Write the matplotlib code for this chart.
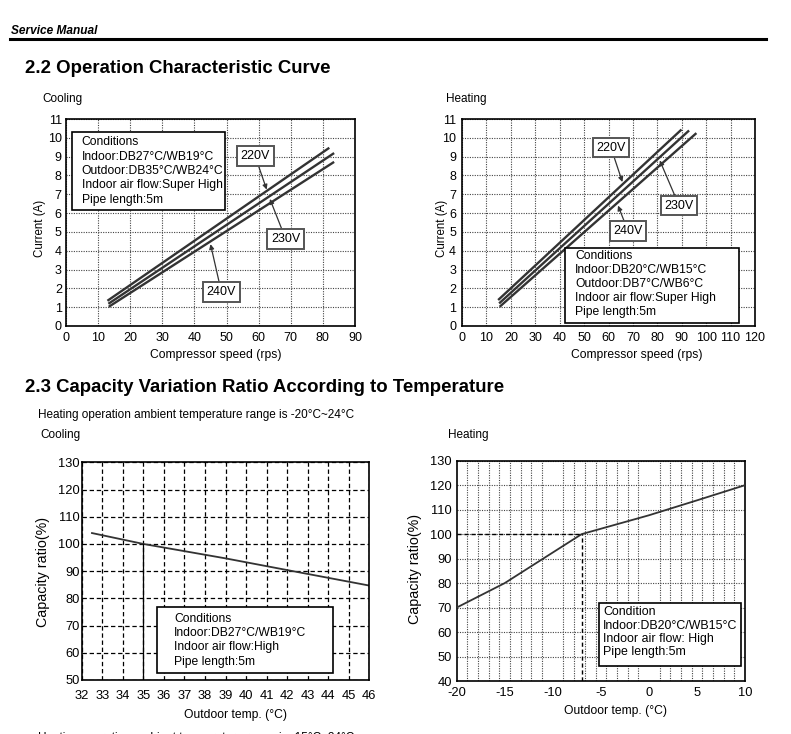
import numpy as np
import matplotlib
matplotlib.use("Agg")
import matplotlib.pyplot as plt
from matplotlib.patches import Rectangle
from matplotlib.lines import Line2D

plt.rcParams['font.family'] = ['Liberation Sans', 'DejaVu Sans']
plt.rcParams['axes.unicode_minus'] = False

# --- data ---
# 2.2 current vs compressor speed (cooling)
cool_rps_220 = [12.9, 82.0]
cool_amp_220 = [1.34, 9.47]
cool_rps_230 = [13.2, 83.5]
cool_amp_230 = [1.18, 9.19]
cool_rps_240 = [13.3, 83.5]
cool_amp_240 = [1.02, 8.72]

# 2.2 current vs compressor speed (heating)
heat_rps_220 = [14.8, 89.9]
heat_amp_220 = [1.38, 10.44]
heat_rps_230 = [15.2, 93.0]
heat_amp_230 = [1.20, 10.39]
heat_rps_240 = [15.4, 96.0]
heat_amp_240 = [1.02, 10.25]

# 2.3 capacity ratio vs outdoor temperature
cap_cool_temp = [32.5, 35, 39, 42, 46]
cap_cool_ratio = [104, 100, 94.7, 90.4, 84.7]
cap_heat_temp = [-20, -15, -11, -7, 0, 5, 10]
cap_heat_ratio = [70, 80, 90, 100, 107.7, 113.8, 120]

cool_cond = ["Conditions", "Indoor:DB27°C/WB19°C", "Outdoor:DB35°C/WB24°C",
             "Indoor air flow:Super High", "Pipe length:5m"]
heat_cond = ["Conditions", "Indoor:DB20°C/WB15°C", "Outdoor:DB7°C/WB6°C",
             "Indoor air flow:Super High", "Pipe length:5m"]
cap_cool_cond = ["Conditions", "Indoor:DB27°C/WB19°C", "Indoor air flow:High",
                 "Pipe length:5m"]
cap_heat_cond = ["Condition", "Indoor:DB20°C/WB15°C", "Indoor air flow: High",
                 "Pipe length:5m"]

W, H = 791, 734
fig = plt.figure(figsize=(W / 100, H / 100), dpi=100)


def fx(px):
    return px / W


def fy(py):
    return 1 - py / H


def axes_px(left, top, right, bottom):
    return fig.add_axes([fx(left), fy(bottom), (right - left) / W, (bottom - top) / H])


def cond_box(rect, lines, x_text, y_first, dy, size=8.7):
    # rect = (left, top, right, bottom) in pixels
    l, t, r, b = rect
    fig.add_artist(Rectangle((fx(l), fy(b)), (r - l) / W, (b - t) / H,
                             transform=fig.transFigure, fc='white', ec='black',
                             lw=1.2, zorder=5))
    for i, s in enumerate(lines):
        fig.text(fx(x_text), fy(y_first + i * dy), s, fontsize=size,
                 va='center', ha='left', zorder=6)


def style_axes(ax, xlab, ylab, xl_pos, yl_pos, ylab_size):
    for sp in ax.spines.values():
        sp.set_linewidth(1.2)
    ax.set_xlabel(xlab, fontsize=8.7)
    ax.set_ylabel(ylab, fontsize=ylab_size)
    ax.xaxis.label.set_va('center')
    ax.yaxis.label.set_va('center')
    ax.xaxis.set_label_coords(*xl_pos)
    ax.yaxis.set_label_coords(*yl_pos)


def volt_label(ax, text, xy, xytext):
    ax.annotate(text, xy=xy, xytext=xytext, fontsize=9, ha='center', va='center',
                bbox=dict(boxstyle='square,pad=0.3', fc='white', ec='#555555', lw=1.4),
                arrowprops=dict(arrowstyle='-|>', color='#333333', lw=0.9,
                                mutation_scale=7, shrinkA=0, shrinkB=0),
                zorder=4)


# --- page header ---
fig.text(fx(11), fy(34), "Service Manual", fontsize=8.6, fontweight='bold',
         fontstyle='italic', va='baseline')
fig.add_artist(Line2D([fx(10), fx(766)], [fy(38.7), fy(38.7)], color='black', lw=2.2))
fig.text(fx(25), fy(73.3), "2.2 Operation Characteristic Curve", fontsize=13.4,
         fontweight='bold', va='baseline')
fig.text(fx(42.7), fy(101.7), "Cooling", fontsize=8.5, va='baseline')
fig.text(fx(446), fy(101.7), "Heating", fontsize=8.5, va='baseline')

line_kw = dict(color='#333333', lw=1.7, solid_capstyle='butt')
dot_grid = dict(linestyle=(0, (1, 1.2)), color='#444444', lw=0.8)

# --- cooling current ---
ax1 = axes_px(66, 119, 355, 326)
ax1.plot(cool_rps_220, cool_amp_220, **line_kw)
ax1.plot(cool_rps_230, cool_amp_230, **line_kw)
ax1.plot(cool_rps_240, cool_amp_240, **line_kw)
ax1.set_xlim(0, 90)
ax1.set_ylim(0, 11)
ax1.set_xticks(np.arange(0, 91, 10))
ax1.set_yticks(np.arange(0, 12, 1))
ax1.grid(True, **dot_grid)
ax1.tick_params(length=0, labelsize=9)
ax1.tick_params(axis='y', pad=3)
ax1.tick_params(axis='x', pad=4.5)
style_axes(ax1, "Compressor speed (rps)", "Current (A)", (0.518, -0.14), (-0.09, 0.469), 8.3)
volt_label(ax1, "220V", (62.5, 7.25), (58.9, 9.03))
volt_label(ax1, "230V", (63.5, 6.75), (68.4, 4.63))
volt_label(ax1, "240V", (45.0, 4.35), (48.4, 1.8))
cond_box((71.7, 131.7, 225, 210), cool_cond, 81.7, 142.3, 14.3)

# --- heating current ---
ax2 = axes_px(462, 119, 755, 326)
ax2.plot(heat_rps_220, heat_amp_220, **line_kw)
ax2.plot(heat_rps_230, heat_amp_230, **line_kw)
ax2.plot(heat_rps_240, heat_amp_240, **line_kw)
ax2.set_xlim(0, 120)
ax2.set_ylim(0, 11)
ax2.set_xticks(np.arange(0, 121, 10))
ax2.set_yticks(np.arange(0, 12, 1))
ax2.grid(True, **dot_grid)
ax2.tick_params(length=0, labelsize=9)
ax2.tick_params(axis='y', pad=4.3)
ax2.tick_params(axis='x', pad=4.5)
style_axes(ax2, "Compressor speed (rps)", "Current (A)", (0.596, -0.14), (-0.069, 0.469), 8.3)
volt_label(ax2, "220V", (65.7, 7.65), (61.0, 9.48))
volt_label(ax2, "230V", (81.0, 8.8), (88.9, 6.4))
volt_label(ax2, "240V", (63.9, 6.4), (68.0, 5.05))
cond_box((565, 248.3, 739.3, 322.7), heat_cond, 575, 256, 14.1)

# --- section 2.3 texts ---
fig.text(fx(25), fy(391.7), "2.3 Capacity Variation Ratio According to Temperature",
         fontsize=13.4, fontweight='bold', va='baseline')
fig.text(fx(38.3), fy(417.7), "Heating operation ambient temperature range is -20°C~24°C",
         fontsize=8.5, va='baseline')
fig.text(fx(40), fy(438.3), "Cooling", fontsize=8.5, va='baseline')
fig.text(fx(448), fy(438.3), "Heating", fontsize=8.5, va='baseline')
# the next line is cut by the page edge, as on the reference
fig.text(fx(38), fy(731.5), "Heating operation ambient temperature range is -15°C~24°C",
         fontsize=8.5, va='top')

# --- cooling capacity ---
ax3 = axes_px(81.7, 462.3, 369.3, 680)
ax3.plot(cap_cool_temp, cap_cool_ratio, color='#333333', lw=1.3)
ax3.plot([cap_cool_temp[1], cap_cool_temp[1]], [50, cap_cool_ratio[1]], color='black', lw=0.9)
ax3.set_xlim(32, 46)
ax3.set_ylim(50, 130)
ax3.set_xticks(np.arange(32, 47, 1))
ax3.set_yticks(np.arange(50, 131, 10))
ax3.grid(True, linestyle=(0, (3.5, 2.2)), color='black', lw=0.9)
ax3.tick_params(length=0, labelsize=9.3)
ax3.tick_params(axis='y', pad=1.5)
ax3.tick_params(axis='x', pad=7)
style_axes(ax3, "Outdoor temp. (°C)", "Capacity ratio(%)", (0.536, -0.16), (-0.1346, 0.497), 10.3)
cond_box((157.3, 606.7, 332.7, 672.7), cap_cool_cond, 174, 619, 14.2)

# --- heating capacity ---
ax4 = axes_px(456.7, 460.7, 745, 681)
ax4.plot(cap_heat_temp, cap_heat_ratio, color='#333333', lw=1.3, zorder=3)
knee_t, knee_r = cap_heat_temp[3], cap_heat_ratio[3]
ax4.plot([-20, knee_t], [knee_r, knee_r], color='black', lw=1.0, linestyle=(0, (3, 2)), zorder=3)
ax4.plot([knee_t, knee_t], [40, knee_r], color='black', lw=1.0, linestyle=(0, (3, 2)), zorder=3)
ax4.set_xlim(-20, 10)
ax4.set_ylim(40, 130)
ax4.set_xticks(np.arange(-20, 11, 5))
ax4.set_xticks(np.linspace(-20, 10, 28), minor=True)
ax4.set_yticks(np.arange(40, 131, 10))
ax4.grid(True, axis='y', **dot_grid)
ax4.grid(True, axis='x', which='minor', **dot_grid)
ax4.tick_params(which='both', length=0, labelsize=9.3)
ax4.tick_params(axis='y', pad=3.5)
ax4.tick_params(axis='x', pad=4)
style_axes(ax4, "Outdoor temp. (°C)", "Capacity ratio(%)", (0.55, -0.136), (-0.1446, 0.507), 10.3)
cond_box((599, 603.3, 740.7, 666), cap_heat_cond, 603.3, 612.3, 13.3, size=8.9)

fig.savefig("out.png", dpi=100)
